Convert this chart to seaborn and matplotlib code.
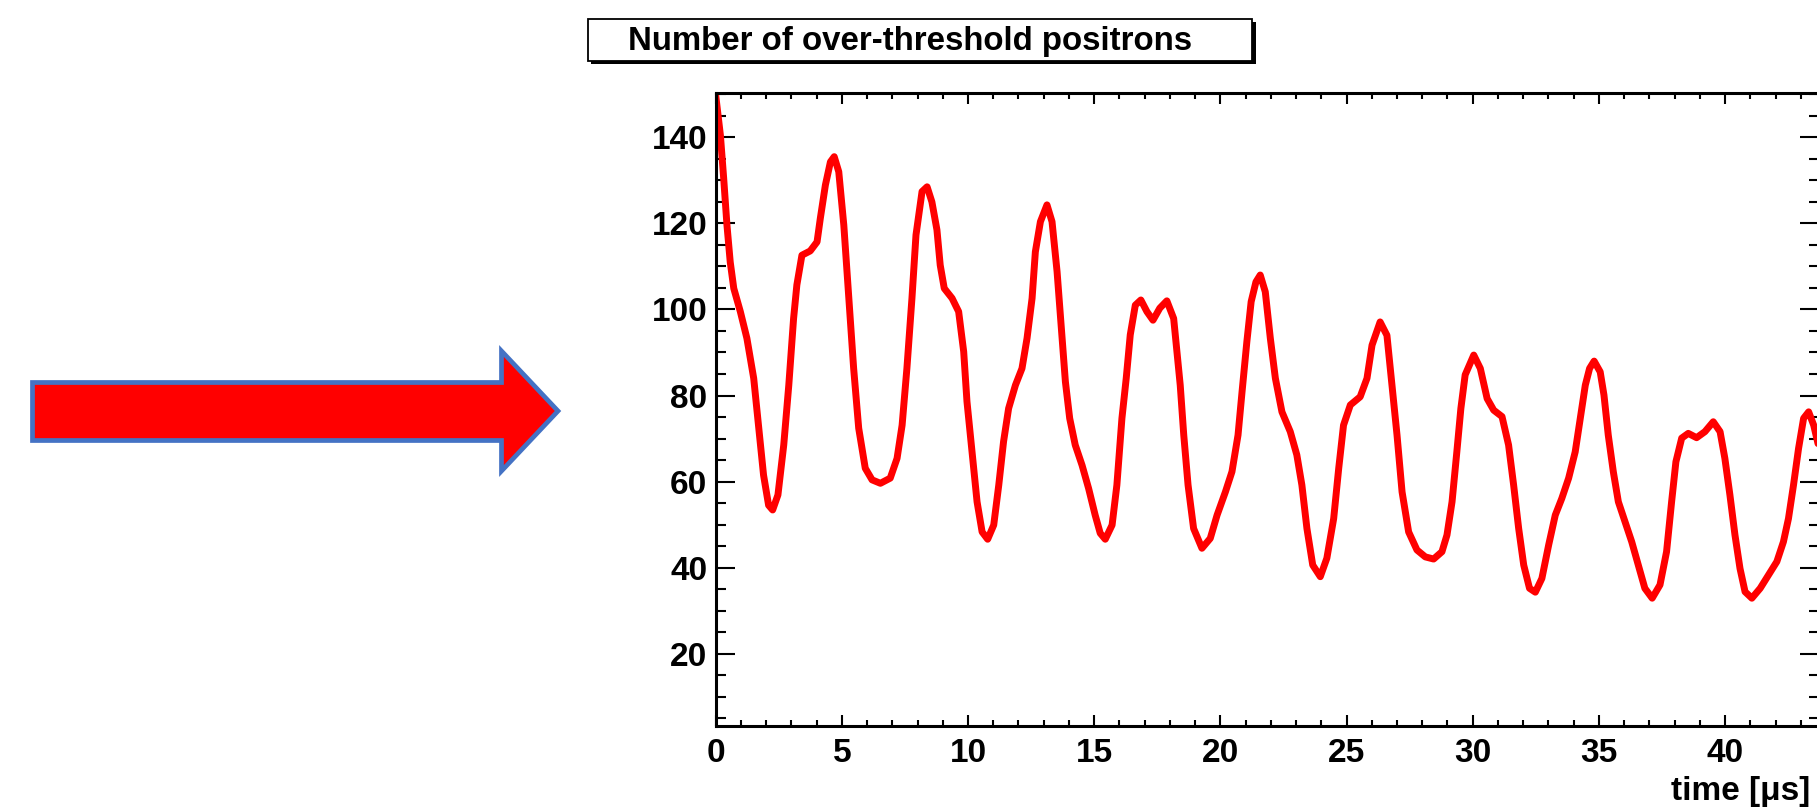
import matplotlib
matplotlib.use("Agg")
import matplotlib.pyplot as plt
from matplotlib.patches import Polygon, Rectangle
from matplotlib.ticker import MultipleLocator
import seaborn as sns
import pandas as pd

# ---------------- data ----------------
time_us = [0, 0.19, 0.32, 0.45, 0.58, 0.72, 0.98, 1.24, 1.51, 1.71,
           1.9, 2.1, 2.26, 2.47, 2.7, 2.9, 3.09, 3.22, 3.42, 3.75,
           4.02, 4.15, 4.35, 4.55, 4.7, 4.88, 5.08, 5.27, 5.47, 5.67,
           5.93, 6.2, 6.53, 6.92, 7.19, 7.39, 7.58, 7.78, 7.94, 8.18,
           8.38, 8.57, 8.77, 8.9, 9.06, 9.37, 9.63, 9.83, 9.96, 10.16,
           10.36, 10.56, 10.78, 11.02, 11.22, 11.41, 11.61, 11.88, 12.14, 12.34,
           12.54, 12.67, 12.87, 13.13, 13.33, 13.53, 13.72, 13.86, 14.03, 14.25,
           14.52, 14.78, 15.04, 15.24, 15.44, 15.71, 15.9, 16.1, 16.27, 16.43,
           16.63, 16.85, 17.09, 17.33, 17.6, 17.88, 18.15, 18.28, 18.41, 18.55,
           18.72, 18.94, 19.27, 19.6, 19.87, 20.2, 20.46, 20.7, 20.86, 21.05,
           21.22, 21.41, 21.58, 21.78, 21.98, 22.18, 22.44, 22.77, 23.03, 23.23,
           23.43, 23.66, 23.96, 24.22, 24.49, 24.69, 24.88, 25.15, 25.54, 25.81,
           26.01, 26.33, 26.6, 26.8, 27.0, 27.2, 27.46, 27.79, 28.12, 28.45,
           28.78, 28.98, 29.18, 29.37, 29.53, 29.7, 30.04, 30.3, 30.57, 30.83,
           31.16, 31.42, 31.62, 31.82, 32.02, 32.25, 32.48, 32.74, 33.01, 33.27,
           33.53, 33.8, 34.06, 34.26, 34.46, 34.63, 34.81, 35.05, 35.2, 35.37,
           35.57, 35.77, 36.03, 36.3, 36.56, 36.82, 37.11, 37.42, 37.68, 37.88,
           38.05, 38.28, 38.54, 38.87, 39.2, 39.53, 39.8, 39.99, 40.19, 40.39,
           40.59, 40.79, 41.06, 41.39, 41.72, 42.05, 42.31, 42.51, 42.71, 42.91,
           43.11, 43.31, 43.51, 43.66, 43.8]

positrons = [150, 140.5, 130.5, 119.6, 111, 104.9, 99.5, 93.3, 84, 72.4,
             61.5, 54.5, 53.4, 56.9, 68.5, 82.4, 97.9, 105.7, 112.6, 113.6,
             115.7, 121.2, 128.9, 134.3, 135.5, 132, 119.6, 103.4, 86.3, 72.4,
             63.1, 60.4, 59.6, 60.8, 65.4, 73.1, 86.3, 102.6, 117.3, 127.4,
             128.5, 125, 118.5, 110.3, 104.9, 102.6, 99.5, 90.2, 78.6, 66.9,
             55.3, 48.3, 46.6, 49.9, 59.2, 69.3, 77, 82.4, 86.3, 93.3,
             102.6, 113.4, 120.4, 124.3, 120.4, 108.8, 94.1, 83.2, 74.7, 68.5,
             63.8, 58.4, 52.2, 48, 46.6, 49.9, 59.2, 74.7, 84, 94.1,
             101, 102.2, 99.5, 97.5, 100.3, 102, 97.9, 90.2, 82.4, 70.8,
             59.2, 49.1, 44.5, 46.8, 52.2, 57.6, 62.3, 70.8, 80.9, 92.5,
             101.8, 106.4, 108, 104.1, 93.3, 84, 76.2, 71.6, 66.2, 59.2,
             49.1, 40.6, 37.9, 42.2, 51.4, 63.1, 73.1, 77.8, 79.7, 84,
             91.7, 97.1, 94, 82.4, 70.8, 57.6, 48.3, 44.1, 42.5, 42,
             43.7, 47.6, 55.3, 66.9, 77, 84.8, 89.4, 86.3, 79.3, 76.6,
             75.1, 68.5, 59.2, 49.1, 40.6, 35.2, 34.3, 37.5, 45.3, 52.2,
             56.1, 60.8, 66.9, 74.7, 82.4, 86.3, 88, 85.5, 80.1, 70.8,
             62.3, 55.3, 50.7, 46, 40.6, 35.2, 32.9, 36, 43.7, 55.3,
             64.6, 70.1, 71.2, 70.2, 71.6, 73.9, 71.6, 65.4, 56.9, 47.6,
             39.8, 34.4, 32.9, 35.2, 38.3, 41.4, 46, 51.4, 59.2, 67.7,
             74.7, 76.2, 73.1, 69.3, 66]

x_ticks = [0, 5, 10, 15, 20, 25, 30, 35, 40]
y_ticks = [20, 40, 60, 80, 100, 120, 140]
title_text = "Number of over-threshold positrons"
xlabel_text = "time [\u03bcs]"

df = pd.DataFrame({"time": time_us, "n": positrons})

# ---------------- style ----------------
sns.set_style("ticks")
plt.rcParams["font.family"] = ["Liberation Sans", "DejaVu Sans"]
plt.rcParams["font.weight"] = "bold"

W, H = 1817, 807
fig = plt.figure(figsize=(W / 100, H / 100), dpi=100)
fig.patch.set_facecolor("white")


def fx(x):
    return x / W


def fy(y):
    return 1 - y / H


ax_l, ax_r, ax_t, ax_b = 715.6, 1819, 93, 726
ax = fig.add_axes([fx(ax_l), fy(ax_b), fx(ax_r) - fx(ax_l), fy(ax_t) - fy(ax_b)])
ax.set_facecolor("white")

sns.lineplot(data=df, x="time", y="n", color="#ff0000", linewidth=5.0,
             ax=ax, sort=False, estimator=None)
for ln in ax.lines:
    ln.set_solid_joinstyle("round")
    ln.set_solid_capstyle("round")

ax.set_xlim(0, 43.72)
ax.set_ylim(3.2, 150.3)
ax.set_xticks(x_ticks)
ax.set_yticks(y_ticks)
ax.xaxis.set_minor_locator(MultipleLocator(1))
ax.yaxis.set_minor_locator(MultipleLocator(5))
ax.set_xlabel("")
ax.set_ylabel("")

for s in ax.spines.values():
    s.set_linewidth(2.2)
    s.set_color("black")
    s.set_visible(True)

ax.tick_params(axis="both", which="both", direction="in", top=True, right=True,
               colors="black", width=1.5)
ax.tick_params(axis="x", which="major", length=8, pad=9, labelsize=24)
ax.tick_params(axis="x", which="minor", length=4.5)
ax.tick_params(axis="y", which="major", length=13.5, pad=6, labelsize=24)
ax.tick_params(axis="y", which="minor", length=7)
for lab in ax.get_xticklabels() + ax.get_yticklabels():
    lab.set_fontweight("bold")

# x axis label (ROOT style, right aligned under the axis)
fig.text(fx(1810), fy(800), xlabel_text, ha="right", va="baseline",
         fontsize=24, fontweight="bold", color="black")

# title box with shadow
shadow = Rectangle((fx(591), fy(64)), fx(1256) - fx(591), fy(22) - fy(64),
                   transform=fig.transFigure, facecolor="black",
                   edgecolor="black", linewidth=0, zorder=5)
box = Rectangle((fx(588), fy(61)), fx(1252) - fx(588), fy(19) - fy(61),
                transform=fig.transFigure, facecolor="white",
                edgecolor="black", linewidth=1.3, zorder=6)
fig.patches.extend([shadow, box])
fig.text(fx(628), fy(50), title_text, ha="left", va="baseline",
         fontsize=23.8, fontweight="bold", color="black", zorder=7)

# big red arrow on the left
arrow_px = [(32.5, 382.5), (501.5, 382.5), (501.5, 351), (558, 411),
            (501.5, 471), (501.5, 440.5), (32.5, 440.5)]
arrow = Polygon([(fx(x), fy(y)) for x, y in arrow_px], closed=True,
                transform=fig.transFigure, facecolor="#ff0000",
                edgecolor="#4472c4", linewidth=3.4, joinstyle="miter", zorder=5)
fig.patches.append(arrow)

fig.savefig("out.png", dpi=100, facecolor="white")
